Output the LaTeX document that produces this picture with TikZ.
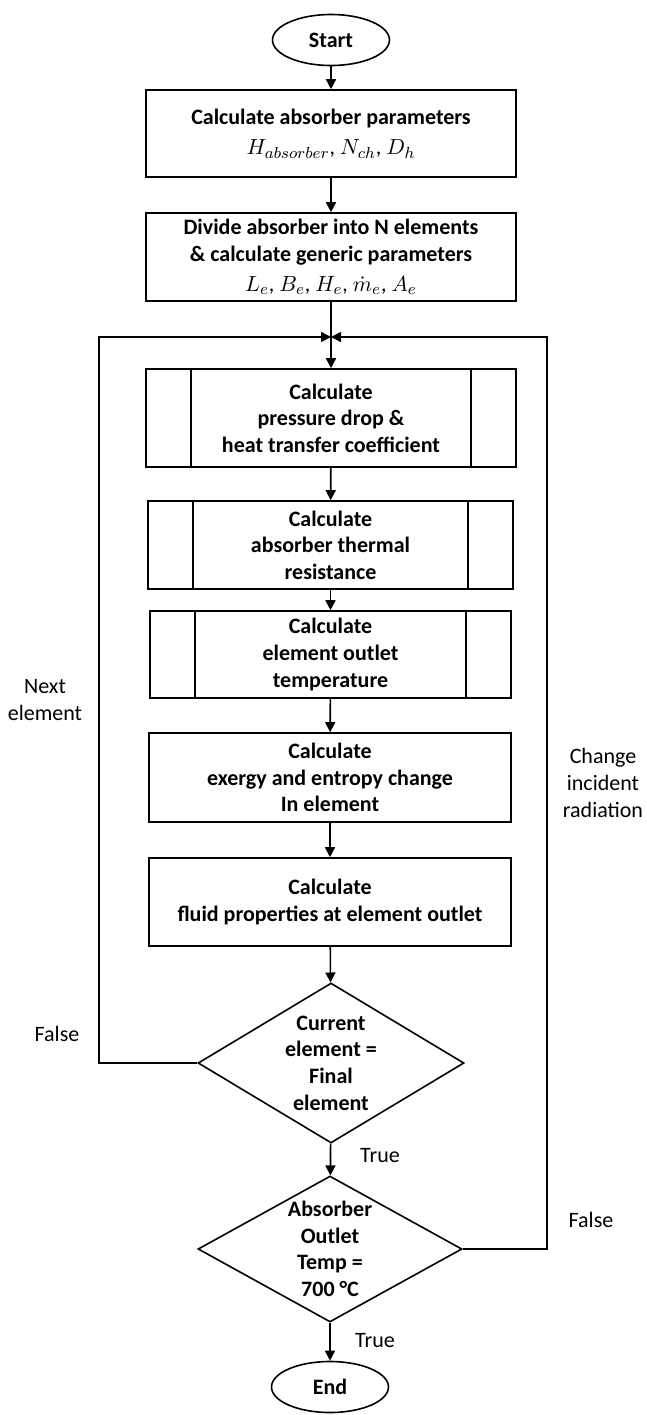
\documentclass[tikz,border=0pt]{standalone}
\usepackage{amsmath}
\usepackage{fontspec}
\setmainfont{Carlito}
\usetikzlibrary{shapes.geometric,arrows.meta}

\begin{document}
\begin{tikzpicture}[x=0.5pt, y=-0.5pt, line width=0.8pt,
    font=\fontsize{11}{13.3}\selectfont,
    >={Triangle[length=5pt,width=5pt]},
    term/.style={draw, ellipse, inner sep=0pt, minimum width=58.5pt, minimum height=25.5pt, font=\fontsize{11}{13.3}\selectfont\bfseries},
    proc/.style={draw, rectangle, inner sep=0pt, align=center, font=\fontsize{11}{13.3}\selectfont\bfseries},
    dec/.style={draw, diamond, inner sep=0pt, align=center, font=\fontsize{11}{13.3}\selectfont\bfseries},
    lbl/.style={align=center}]
\useasboundingbox (0,0) rectangle (647,1415);

%\draw[help lines] (0,0) grid (647,1415);

\node[term] (start) at (331,40) {Start};
\node[proc, minimum width=185pt, minimum height=43.5pt] (absorb) at (331,133.5)
    {Calculate absorber parameters\\[2pt] \mdseries$H_{absorber}$, $N_{ch}$, $D_h$};
\node[proc, minimum width=185pt, minimum height=44pt] (divide) at (331,257)
    {Divide absorber into N elements\\ \& calculate generic parameters\\[2pt] \mdseries$L_e$, $B_e$, $H_e$, $\dot{m}_e$, $A_e$};
\coordinate (join) at (331,337);

% sub-process boxes
\node[proc, minimum width=185pt, minimum height=49pt] (dp) at (331,418)
    {Calculate\\ pressure drop \&\\ heat transfer coefficient};
\node[proc, minimum width=182.5pt, minimum height=44pt] (rth) at (330.5,545)
    {Calculate\\ absorber thermal\\ resistance};
\node[proc, minimum width=180.5pt, minimum height=43.5pt] (tout) at (330.5,654.5)
    {Calculate\\ element outlet\\ temperature};
\foreach \n in {dp,rth,tout} {
    \draw ([xshift=23pt]\n.north west) -- ([xshift=23pt]\n.south west);
    \draw ([xshift=-23pt]\n.north east) -- ([xshift=-23pt]\n.south east);
}

\node[proc, minimum width=181pt, minimum height=44.5pt] (exergy) at (330,777.5)
    {Calculate\\ exergy and entropy change\\ In element};
\node[proc, minimum width=181pt, minimum height=44pt] (fluid) at (330,902)
    {Calculate\\ fluid properties at element outlet};

\node[dec, aspect=1.66, minimum width=133pt, minimum height=80pt] (cur) at (331,1063)
    {Current\\ element =\\ Final\\ element};
\node[dec, aspect=1.8, minimum width=132pt, minimum height=73pt] (tmp) at (330,1249)
    {Absorber\\ Outlet\\ Temp =\\ 700 °C};
\node[term] (end) at (330,1387) {End};

\draw[->] (start) -- (absorb);
\draw[->] (absorb) -- (divide);
\draw (divide) -- (join);
\draw[->] (join) -- (dp);
\draw[->] (dp) -- (rth);
\draw[->] (rth) -- (tout);
\draw[->] (tout) -- (exergy);
\draw[->] (exergy) -- (fluid);
\draw[->] (fluid) -- (cur);
\draw[->] (cur) -- (tmp);
\draw[->] (tmp) -- (end);

% loops back
\draw[->] (cur.west) -- ++(-98,0) |- (join);
\draw[->] (tmp.east) -- ++(84,0) |- (join);

\node[lbl] (next) at (45,700) {Next\\ element};
\node[lbl] (change) at (603,783) {Change\\ incident\\ radiation};
\node[lbl] (f1) at (57,1034) {False};
\node[lbl] (t1) at (380,1156) {True};
\node[lbl] (f2) at (591,1220) {False};
\node[lbl] (t2) at (375,1341) {True};
\end{tikzpicture}
\end{document}
